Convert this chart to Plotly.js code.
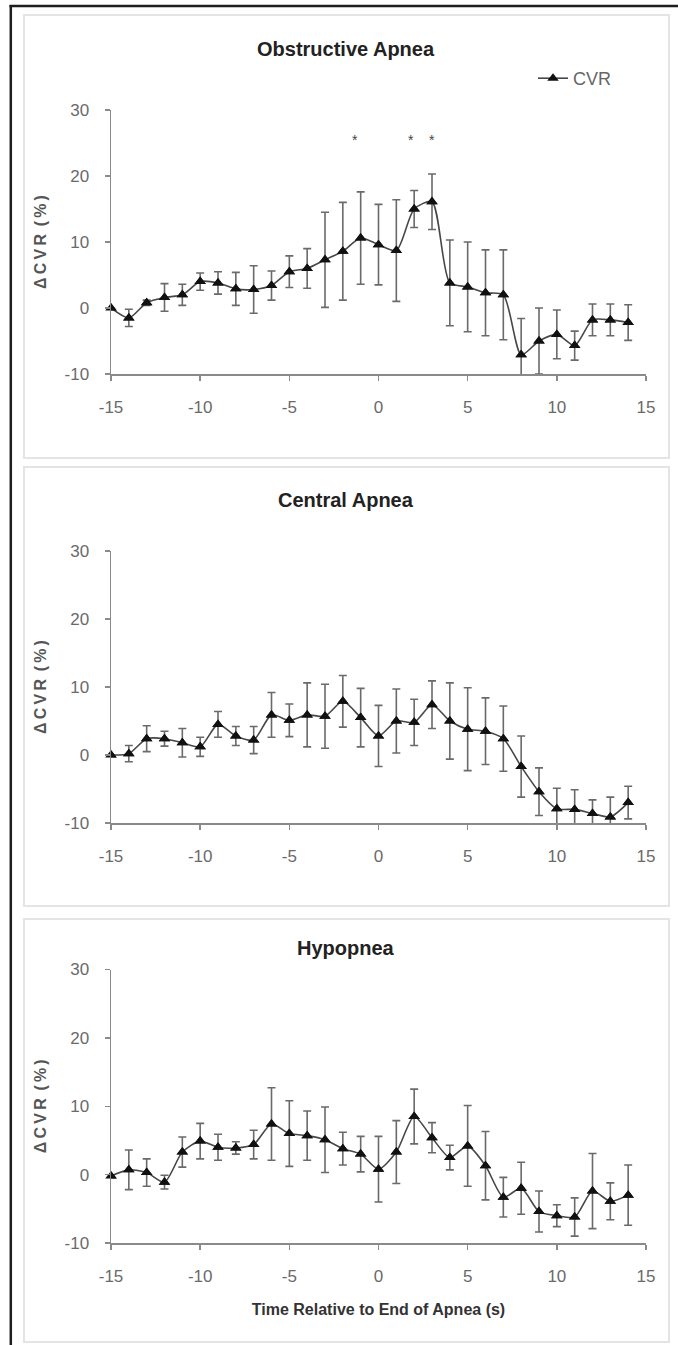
<!DOCTYPE html>
<html>
<head>
<meta charset="utf-8">
<script src="https://cdn.plot.ly/plotly-3.0.1.min.js"></script>
<style>
  html, body { margin: 0; padding: 0; background: #ffffff; }
  #chart { width: 678px; height: 1345px; }
</style>
</head>
<body>
<div id="chart"></div>
<script>
// ---------------- data ----------------
const timeSec = [-15,-14,-13,-12,-11,-10,-9,-8,-7,-6,-5,-4,-3,-2,-1,0,1,2,3,4,5,6,7,8,9,10,11,12,13,14];

const panelTitles = ["Obstructive Apnea", "Central Apnea", "Hypopnea"];
const seriesName = "CVR";

const obstructiveCVR = [0, -1.5, 0.8, 1.6, 2.0, 4.0, 3.8, 2.9, 2.8, 3.4, 5.5, 6.0, 7.3, 8.6, 10.6, 9.6, 8.7, 15.0, 16.1, 3.8, 3.2, 2.3, 2.0, -7.1, -5.0, -4.0, -5.7, -1.8, -1.8, -2.2];
const obstructiveErr = [0, 1.3, 0.4, 2.1, 1.6, 1.3, 1.7, 2.5, 3.6, 2.2, 2.4, 3.0, 7.2, 7.4, 7.0, 6.1, 7.7, 2.8, 4.2, 6.5, 6.8, 6.5, 6.8, 5.5, 5.0, 3.7, 2.2, 2.4, 2.4, 2.7];

const centralCVR = [0, 0.2, 2.4, 2.4, 1.8, 1.2, 4.5, 2.8, 2.2, 5.9, 5.1, 5.9, 5.7, 7.9, 5.5, 2.8, 5.0, 4.8, 7.4, 5.0, 3.8, 3.5, 2.4, -1.7, -5.4, -7.9, -8.0, -8.6, -9.1, -7.0];
const centralErr = [0, 1.2, 1.9, 1.1, 2.1, 1.4, 1.9, 1.4, 2.0, 3.3, 2.4, 4.7, 4.7, 3.8, 4.3, 4.5, 4.7, 3.4, 3.5, 5.6, 6.1, 4.9, 4.8, 4.5, 3.5, 3.0, 2.9, 2.0, 2.9, 2.4];

const hypopneaCVR = [-0.2, 0.7, 0.3, -1.1, 3.3, 4.9, 4.0, 3.9, 4.4, 7.4, 6.0, 5.7, 5.1, 3.8, 3.0, 0.8, 3.3, 8.5, 5.4, 2.5, 4.2, 1.3, -3.3, -2.0, -5.4, -6.0, -6.2, -2.4, -3.9, -3.0];
const hypopneaErr = [0, 2.9, 2.0, 1.0, 2.2, 2.6, 1.9, 0.9, 2.1, 5.3, 4.8, 3.6, 4.8, 2.4, 2.6, 4.8, 4.6, 4.0, 2.2, 1.8, 5.9, 5.0, 2.9, 3.8, 3.0, 1.6, 2.8, 5.5, 2.7, 4.4];

// significance markers (Obstructive Apnea panel)
const starTimes = [-1.3, 1.8, 3];
const starLevel = 25.4;

const xTickVals = [-15, -10, -5, 0, 5, 10, 15];
const xTickText = ['-15', '-10', '-5', '0', '5', '10', '15'];
const yTickVals = [-10, 0, 10, 20, 30];
const yTickText = ['-10', '0', '10', '20', '30'];

// ---------------- layout helpers ----------------
const W = 678, H = 1345;
const ML = 111, MR = 32, MT = 110, MB = 102;
const PW = W - ML - MR, PH = H - MT - MB;
const px2x = px => (px - ML) / PW;
const py2y = py => (H - MB - py) / PH;

const NARROW = "'Liberation Sans Narrow', 'Arial Narrow', 'Liberation Sans', Arial, sans-serif";
const SANS = "'Liberation Sans', Arial, sans-serif";

const panels = [
  {y: obstructiveCVR, e: obstructiveErr, top: 110, bottom: 374, box: [15, 458], titleY: 49},
  {y: centralCVR,     e: centralErr,     top: 551, bottom: 823, box: [467, 906], titleY: 500},
  {y: hypopneaCVR,    e: hypopneaErr,    top: 969.5, bottom: 1243, box: [919, 1342], titleY: 948}
];

const traces = [];
const layout = {
  width: W, height: H,
  margin: {l: ML, r: MR, t: MT, b: MB},
  paper_bgcolor: '#ffffff',
  plot_bgcolor: 'rgba(0,0,0,0)',
  showlegend: true,
  legend: {
    x: px2x(533), y: py2y(60), xanchor: 'left', yanchor: 'top',
    font: {family: SANS, size: 18, color: '#666666'},
    bgcolor: 'rgba(0,0,0,0)', itemwidth: 30, tracegroupgap: 0
  },
  shapes: [],
  annotations: []
};

panels.forEach((p, i) => {
  const n = i === 0 ? '' : String(i + 1);
  const xa = 'x' + n, ya = 'y' + n;
  traces.push({
    type: 'scatter', mode: 'lines+markers',
    x: timeSec, y: p.y,
    xaxis: xa, yaxis: ya,
    name: seriesName, showlegend: i === 0,
    line: {color: '#474747', width: 1.6, shape: 'spline', smoothing: 0.7},
    marker: {symbol: 'triangle-up', size: 10, color: '#111111'},
    error_y: {type: 'data', array: p.e, visible: true, color: '#6a6a6a', thickness: 1.6, width: 4},
    cliponaxis: true, hoverinfo: 'x+y'
  });
  traces.push({
    type: 'scatter', mode: 'markers',
    x: timeSec, y: p.y, xaxis: xa, yaxis: ya,
    showlegend: false, cliponaxis: false,
    marker: {symbol: 'triangle-up', size: 10, color: '#111111'},
    hoverinfo: 'skip'
  });

  const axStyle = {
    showline: true, linecolor: '#8a8a8a', linewidth: 1.5,
    ticks: 'outside', ticklen: 5, tickwidth: 1.5, tickcolor: '#8a8a8a',
    showgrid: false, zeroline: false, fixedrange: true,
    tickfont: {family: NARROW, size: 17, color: '#6a6a6a'}
  };
  layout['xaxis' + n] = Object.assign({}, axStyle, {
    domain: [0, 1], anchor: ya, range: [-15, 15],
    tickmode: 'array', tickvals: xTickVals, ticktext: xTickText, ticklabelstandoff: 12,
    title: i === 2 ? {text: 'Time Relative to End of Apnea (s)', standoff: 19,
      font: {family: SANS, size: 16, color: '#333333', weight: 700}} : {text: ''}
  });
  layout['yaxis' + n] = Object.assign({}, axStyle, {
    domain: [py2y(p.bottom), py2y(p.top)], anchor: xa, range: [-10, 30],
    tickmode: 'array', tickvals: yTickVals, ticktext: yTickText, ticklabelstandoff: 12,
    title: {text: 'Δ\u2009C\u2009V\u2009R\u2009 (\u2009%\u2009)', standoff: 14,
      font: {family: SANS, size: 16, color: '#555555', weight: 700}}
  });

  // panel frame
  layout.shapes.push({
    type: 'rect', xref: 'paper', yref: 'paper', layer: 'below',
    x0: px2x(24), x1: px2x(669), y0: py2y(p.box[1]), y1: py2y(p.box[0]),
    line: {color: '#e4e4e4', width: 2}, fillcolor: '#ffffff'
  });
  // panel title
  layout.annotations.push({
    xref: 'paper', yref: 'paper', x: px2x(346), y: py2y(p.titleY),
    xanchor: 'center', yanchor: 'middle', showarrow: false,
    text: panelTitles[i],
    font: {family: SANS, size: 20, color: '#222222', weight: 700}
  });
});

// significance stars
starTimes.forEach(t => {
  layout.annotations.push({
    xref: 'x', yref: 'y', x: t, y: starLevel, text: '*', showarrow: false,
    xanchor: 'center', yanchor: 'middle',
    font: {family: SANS, size: 14, color: '#444444'}
  });
});

// outer dark frame (top and left)
layout.shapes.push({
  type: 'line', xref: 'paper', yref: 'paper',
  x0: px2x(9.5), x1: px2x(680), y0: py2y(6), y1: py2y(6),
  line: {color: '#1e1e1e', width: 2.5}
});
layout.shapes.push({
  type: 'line', xref: 'paper', yref: 'paper',
  x0: px2x(10.8), x1: px2x(10.8), y0: py2y(5), y1: py2y(1350),
  line: {color: '#1e1e1e', width: 2.5}
});

Plotly.newPlot('chart', traces, layout, {displayModeBar: false, staticPlot: true});
</script>
</body>
</html>
